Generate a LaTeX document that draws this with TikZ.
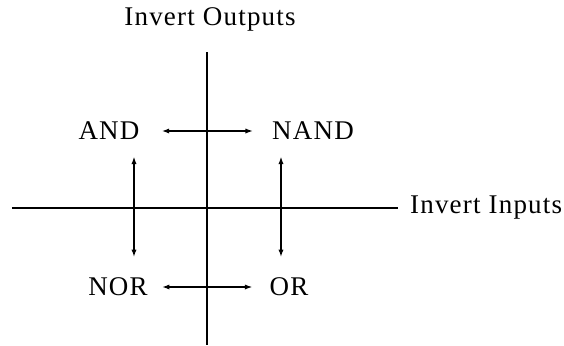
\documentclass[tikz,border=0pt]{standalone}
\usepackage{fontspec}
\setmainfont[LetterSpace=4.5]{Liberation Serif}
\usepackage{tikz}
\usetikzlibrary{arrows.meta}
\usetikzlibrary{positioning}

\begin{document}
\begin{tikzpicture}[x=1pt,y=1pt,>={Latex[length=3.8pt,width=2.6pt]},line width=1.1pt,
  gate/.style={inner sep=0pt,font=\fontsize{13.5}{16}\selectfont},
  swap/.style={<->,line width=1pt}]
\useasboundingbox (-103.5,-68.5) rectangle (178.5,104);
% axes
\coordinate (c) at (0,0);
\draw (-97.5,0) coordinate (w) -- (95.5,0) coordinate (e);
\draw (0,78) coordinate (n) -- (0,-68.5) coordinate (s);
\node[gate,anchor=west,right=5.5pt of e] (inv in) {Invert Inputs};
\node[gate,above=10pt of n,xshift=1.5pt] (inv out) {Invert Outputs};
% gates
\node[gate] (and) at (-49,38.5) {AND};
\node[gate] (nand) at (53,38.5) {NAND};
\node[gate] (nor) at (-44.5,-39.5) {NOR};
\node[gate] (or) at (41,-39.5) {OR};
\coordinate (il) at (-36.5,0);
\coordinate (ir) at (37,0);
% arrows
\draw[swap,shorten <=10.5pt,shorten >=9pt] (and) -- (nand);
\draw[swap,shorten <=6.5pt,shorten >=8pt] (nor) -- (or);
\draw[swap,shorten <=7.7pt,shorten >=9.8pt] (and.south -| il) -- (nor.north -| il);
\draw[swap,shorten <=7.7pt,shorten >=9.8pt] (nand.south -| ir) -- (or.north -| ir);
\end{tikzpicture}
\end{document}
